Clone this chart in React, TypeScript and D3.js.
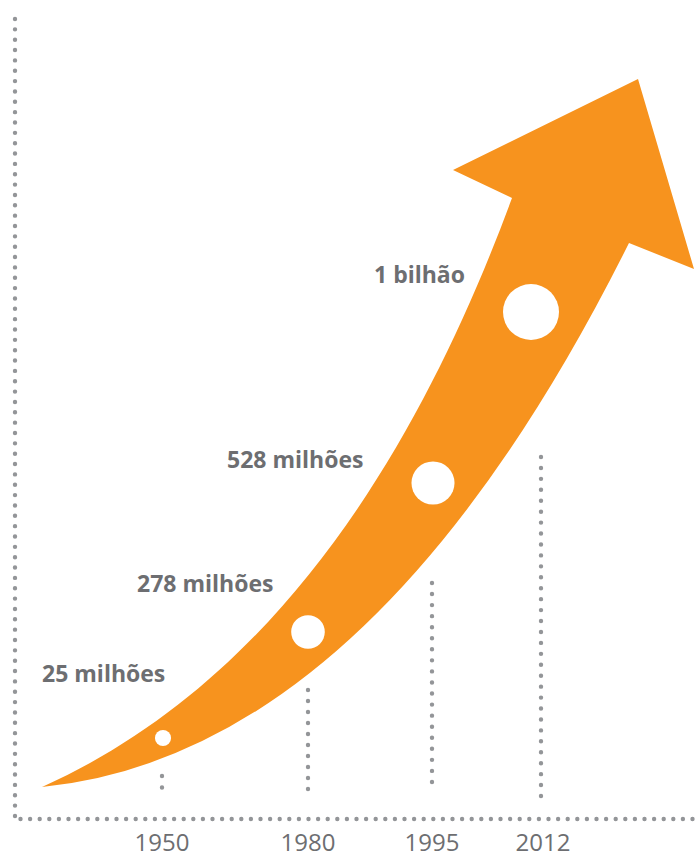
import React from "react";
import * as d3 from "d3";

// ---- data ----
const years = [1950, 1980, 1995, 2012];
const populations = [25, 278, 528, 1000]; // milhões
const valueLabels = ["25 milhões", "278 milhões", "528 milhões", "1 bilhão"];
const yearLabels = ["1950", "1980", "1995", "2012"];

// ---- layout ----
const W = 700;
const H = 856;
const ORANGE = "#F7931E";
const TEXT = "#6D6E71";
const DOT = "#939598";

// year -> x for dotted guides and year labels (piecewise scale)
const xGuide = d3.scaleLinear().domain(years).range([162, 308, 432, 541]);
const xYearLabel = d3.scaleLinear().domain(years).range([162, 308, 432, 543]);
// markers along the arrow
const xMarker = d3.scaleLinear().domain(years).range([163, 308, 433, 531]);
const yMarker = d3.scaleLinear().domain(populations).range([738, 632, 483, 312]);
const rMarker = d3.scaleSqrt().domain([0, 1000]).range([4.3, 28]);

const guideTop = [776, 690, 583, 457];
const guideBottom = [799, 800, 793, 796];
const labelPos: [number, number][] = [
  [42, 682],
  [137, 592],
  [227, 468],
  [374, 283],
];

function arrowPath(): string {
  const p = d3.path();
  // tail
  p.moveTo(42, 787);
  // upper edge
  p.bezierCurveTo(292, 675, 430, 420, 512, 198);
  // arrow head
  p.lineTo(453, 170);
  p.lineTo(638, 79);
  p.lineTo(694, 269);
  p.lineTo(629, 243);
  // lower edge back to tail
  p.quadraticCurveTo(374, 754, 42, 787);
  p.closePath();
  return p.toString();
}

function Dotted({ x1, y1, x2, y2, gap }: { x1: number; y1: number; x2: number; y2: number; gap: number }) {
  return (
    <line
      x1={x1}
      y1={y1}
      x2={x2}
      y2={y2}
      stroke={DOT}
      strokeWidth={4.4}
      strokeLinecap="round"
      strokeDasharray={`0 ${gap}`}
    />
  );
}

export default function App() {
  return (
    <svg
      width={W}
      height={H}
      viewBox={`0 0 ${W} ${H}`}
      style={{ position: "absolute", left: 0, top: 0, background: "#fff" }}
    >
      {/* axes */}
      <Dotted x1={15} y1={19} x2={15} y2={816} gap={10.35} />
      <Dotted x1={20.5} y1={819} x2={700} y2={819} gap={9.6} />

      {/* year guides */}
      {years.map((yr, i) => (
        <Dotted
          key={yr}
          x1={xGuide(yr)}
          y1={guideTop[i]}
          x2={xGuide(yr)}
          y2={guideBottom[i]}
          gap={(guideBottom[i] - guideTop[i]) / Math.round((guideBottom[i] - guideTop[i]) / 11)}
        />
      ))}

      {/* arrow */}
      <path d={arrowPath()} fill={ORANGE} />

      {/* markers */}
      {years.map((yr, i) => (
        <circle
          key={yr}
          cx={xMarker(yr)}
          cy={yMarker(populations[i])}
          r={rMarker(populations[i])}
          fill="#fff"
        />
      ))}

      {/* value labels */}
      {valueLabels.map((t, i) => (
        <text
          key={t}
          x={labelPos[i][0]}
          y={labelPos[i][1]}
          fill={TEXT}
          fontFamily="'Open Sans', sans-serif"
          fontWeight={700}
          fontSize={23}
        >
          {t}
        </text>
      ))}

      {/* year labels */}
      {years.map((yr, i) => (
        <text
          key={yr}
          x={xYearLabel(yr)}
          y={851}
          textAnchor="middle"
          fill={TEXT}
          fontFamily="'Open Sans', sans-serif"
          fontSize={24}
        >
          {yearLabels[i]}
        </text>
      ))}
    </svg>
  );
}
